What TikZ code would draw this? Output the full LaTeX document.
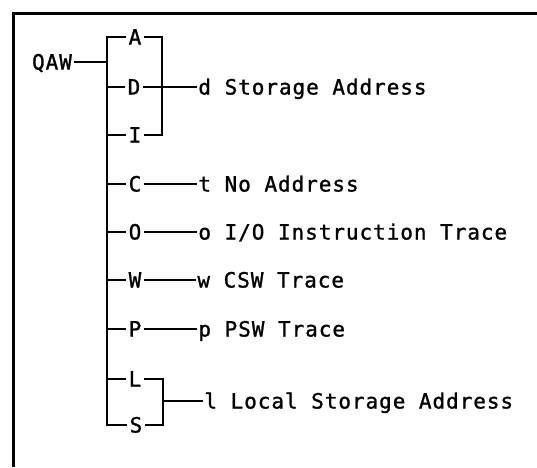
\documentclass[tikz,border=0pt]{standalone}
\usepackage{fontspec}
\newfontfamily\typer[LetterSpace=4.5,FakeBold=1.2]{DejaVu Sans Mono}
\begin{document}
\begin{tikzpicture}[x=1pt,y=-1pt,line width=1.8pt,line join=miter,
  lbl/.style={font=\typer\fontsize{21}{22}\selectfont,text height=15pt,text depth=0pt,inner xsep=1.5pt,inner ysep=0pt},
  txt/.style={lbl,anchor=west,inner xsep=0.5pt},
  frame/.style={line width=2.8pt}]
\useasboundingbox (0,0) rectangle (537,467);
\draw[frame] (13.5,467) -- (13.5,13.5) -- (537,13.5);
% main label
\node[lbl] (QAW) at (52,62) {QAW};
\coordinate (ttop) at (107,37);
\coordinate (tbot) at (107,425);
% options
\node[lbl] (A) at (135,37) {A};
\node[lbl] (D) at (134,87) {D};
\node[lbl] (I) at (135,135) {I};
\node[lbl] (C) at (135,184) {C};
\node[lbl] (O) at (135,232) {O};
\node[lbl] (W) at (135,280) {W};
\node[lbl] (P) at (135,329) {P};
\node[lbl] (L) at (135,379) {L};
\node[lbl] (S) at (136,425) {S};
% brackets
\coordinate (b1top) at (162,37);
\coordinate (b1bot) at (162,135);
\coordinate (b2top) at (163,379);
\coordinate (b2bot) at (163,425);
\coordinate (b2mid) at (163,401);
% results
\node[txt] (d) at (197,87) {d Storage Address};
\node[txt] (t) at (197,184) {t No Address};
\node[txt] (o) at (197,232) {o I/O Instruction Trace};
\node[txt] (w) at (196,280) {w CSW Trace};
\node[txt] (p) at (197,329) {p PSW Trace};
\node[txt] (l) at (203,401) {l Local Storage Address};
% connectors
\draw (QAW.east) -- (QAW.east -| ttop);
\draw (A.west) -- (ttop) -- (tbot) -- (S.west);
\draw (D.west -| ttop) -- (D.west);
\draw (I.west -| ttop) -- (I.west);
\draw (C.west -| ttop) -- (C.west);
\draw (O.west -| ttop) -- (O.west);
\draw (W.west -| ttop) -- (W.west);
\draw (P.west -| ttop) -- (P.west);
\draw (L.west -| ttop) -- (L.west);
\draw (A.east) -- (b1top) -- (b1bot) -- (I.east);
\draw (D.east) -- (d.west);
\draw (C.east) -- (t.west);
\draw (O.east) -- (o.west);
\draw (W.east) -- (w.west);
\draw (P.east) -- (p.west);
\draw (L.east) -- (b2top) -- (b2bot) -- (S.east);
\draw (b2mid) -- (l.west);
\end{tikzpicture}
\end{document}
